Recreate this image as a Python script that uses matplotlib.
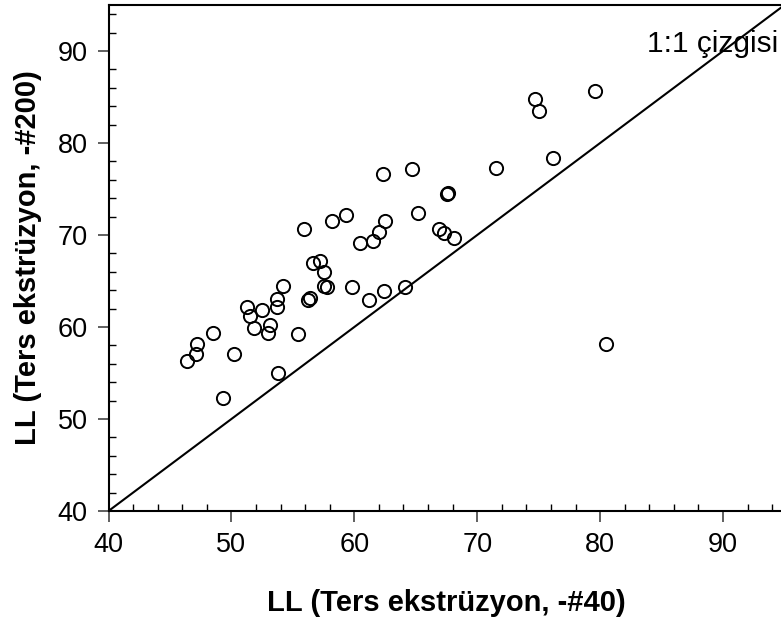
import matplotlib
matplotlib.use("Agg")
import matplotlib.pyplot as plt
from matplotlib.ticker import MultipleLocator

plt.rcParams['font.family'] = ['Liberation Sans', 'DejaVu Sans']

# LL from reverse extrusion, #40 sieve (x) vs #200 sieve (y)
ll_40 = [46.4, 47.1, 47.2, 48.5, 49.3, 50.2, 51.3, 51.5, 51.8, 52.5,
         53.0, 53.1, 53.7, 53.7, 53.8, 54.2, 55.4, 55.9, 56.2, 56.4,
         56.6, 57.2, 57.5, 57.5, 57.8, 58.2, 59.3, 59.8, 60.5, 61.2,
         61.5, 62.0, 62.4, 62.5, 62.3, 64.1, 64.7, 65.2, 66.9, 67.3,
         67.5, 67.6, 68.1, 71.5, 74.7, 75.0, 76.2, 79.6, 80.5]
ll_200 = [56.3, 57.1, 58.1, 59.3, 52.3, 57.1, 62.2, 61.2, 59.9, 61.8,
          59.4, 60.2, 62.2, 63.0, 55.0, 64.5, 59.2, 70.7, 62.9, 63.1,
          67.0, 67.2, 66.0, 64.5, 64.3, 71.5, 72.2, 64.3, 69.1, 62.9,
          69.4, 70.3, 63.9, 71.5, 76.6, 64.3, 77.2, 72.4, 70.7, 70.2,
          74.5, 74.6, 69.7, 77.3, 84.8, 83.5, 78.4, 85.6, 58.1]
line_11 = [40, 95]
xticks = [40, 50, 60, 70, 80, 90]
yticks = [40, 50, 60, 70, 80, 90]

W, H = 781, 623
fig = plt.figure(figsize=(W / 100, H / 100), dpi=100)
left, right, bottom, top = 108.5, 784.5, 511.0, 5.0
ax = fig.add_axes([left / W, (H - bottom) / H, (right - left) / W, (bottom - top) / H])

ax.plot(line_11, line_11, color='black', lw=1.5, zorder=2)
ax.plot(ll_40, ll_200, 'o', mfc='none', mec='black', ms=9.5, mew=1.4, zorder=3)

ax.set_xlim(40, 95)
ax.set_ylim(40, 95)
ax.set_xticks(xticks)
ax.set_yticks(yticks)
ax.xaxis.set_minor_locator(MultipleLocator(2))
ax.yaxis.set_minor_locator(MultipleLocator(2))
ax.tick_params(which='major', direction='out', length=8, width=1.2, color='#444444',
               labelsize=19.5, pad=7)
ax.tick_params(which='minor', direction='in', length=5, width=1.0, color='black')
ax.spines['right'].set_visible(False)
for s in ['left', 'bottom', 'top']:
    ax.spines[s].set_linewidth(1.5)

ax.text(83.8, 90.8, '1:1 çizgisi', fontsize=21.5, ha='left', va='center')

ax.set_xlabel('LL (Ters ekstrüzyon, -#40)', fontsize=21, fontweight='bold')
ax.set_ylabel('LL (Ters ekstrüzyon, -#200)', fontsize=21, fontweight='bold')
ax.xaxis.set_label_coords(0.5, (H - 603 - (H - bottom)) / (bottom - top))
ax.xaxis.label.set_va('center')
ax.yaxis.set_label_coords((28 - left) / (right - left), 0.5)
ax.yaxis.label.set_va('center')

fig.savefig('out.png', dpi=100)
